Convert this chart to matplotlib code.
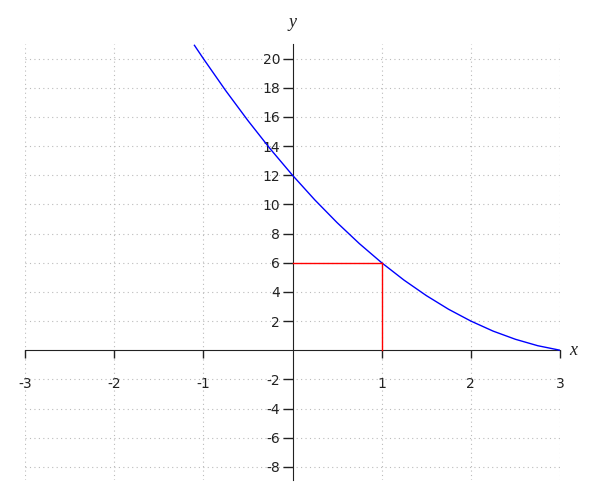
import matplotlib
matplotlib.use("Agg")
import matplotlib.pyplot as plt

# points
curve_x = [-1.1, -1.0, -0.75, -0.5, -0.25, 0, 0.25, 0.5, 0.75, 1.0,
           1.25, 1.5, 1.75, 2.0, 2.25, 2.5, 2.75, 3.0]
curve_y = [20.91, 20.0, 17.81, 15.75, 13.81, 12.0, 10.31, 8.75, 7.31, 6.0,
           4.81, 3.75, 2.81, 2.0, 1.31, 0.75, 0.31, 0.0]

# red guide lines through (1, 6)
guide_h_x = [0, 1]
guide_h_y = [6, 6]
guide_v_x = [1, 1]
guide_v_y = [6, 0]

xticks = [-3, -2, -1, 1, 2, 3]
yticks = [-8, -6, -4, -2, 2, 4, 6, 8, 10, 12, 14, 16, 18, 20]

fig = plt.figure(figsize=(6, 5), dpi=100)
ax = fig.add_axes([25 / 600, 20 / 500, 535 / 600, 436 / 500])

ax.plot(curve_x, curve_y, color="blue", lw=1, zorder=3)
ax.plot(guide_h_x, guide_h_y, color="red", lw=1, zorder=4, solid_capstyle="projecting")
ax.plot(guide_v_x, guide_v_y, color="red", lw=1, zorder=4, solid_capstyle="projecting")

ax.set_xlim(-3, 3)
ax.set_ylim(-8.9, 21)

for s in ["top", "right"]:
    ax.spines[s].set_visible(False)
ax.spines["left"].set_position(("data", 0))
ax.spines["bottom"].set_position(("data", 0))
ax.spines["left"].set_color("#222222")
ax.spines["bottom"].set_color("#222222")

ax.set_xticks(xticks)
ax.set_yticks(yticks)
ax.set_xticklabels([str(v) for v in xticks])
ax.set_yticklabels([str(v) for v in yticks])
ax.tick_params(axis="x", direction="out", length=6, width=1, pad=13,
               labelsize=10, colors="#222222")
ax.tick_params(axis="y", direction="out", length=7, width=1, pad=2,
               labelsize=10, colors="#222222")

ax.grid(True, color="#bbbbbb", linestyle=(0, (1, 3)), linewidth=0.8)
ax.set_axisbelow(True)

ax.text(0, 21.9, "y", ha="center", va="bottom", fontsize=13,
        family="Liberation Serif", style="italic", color="#222222")
ax.text(3.1, 0, "x", ha="left", va="center", fontsize=13,
        family="Liberation Serif", style="italic", color="#222222")

fig.savefig("out.png", dpi=100)
